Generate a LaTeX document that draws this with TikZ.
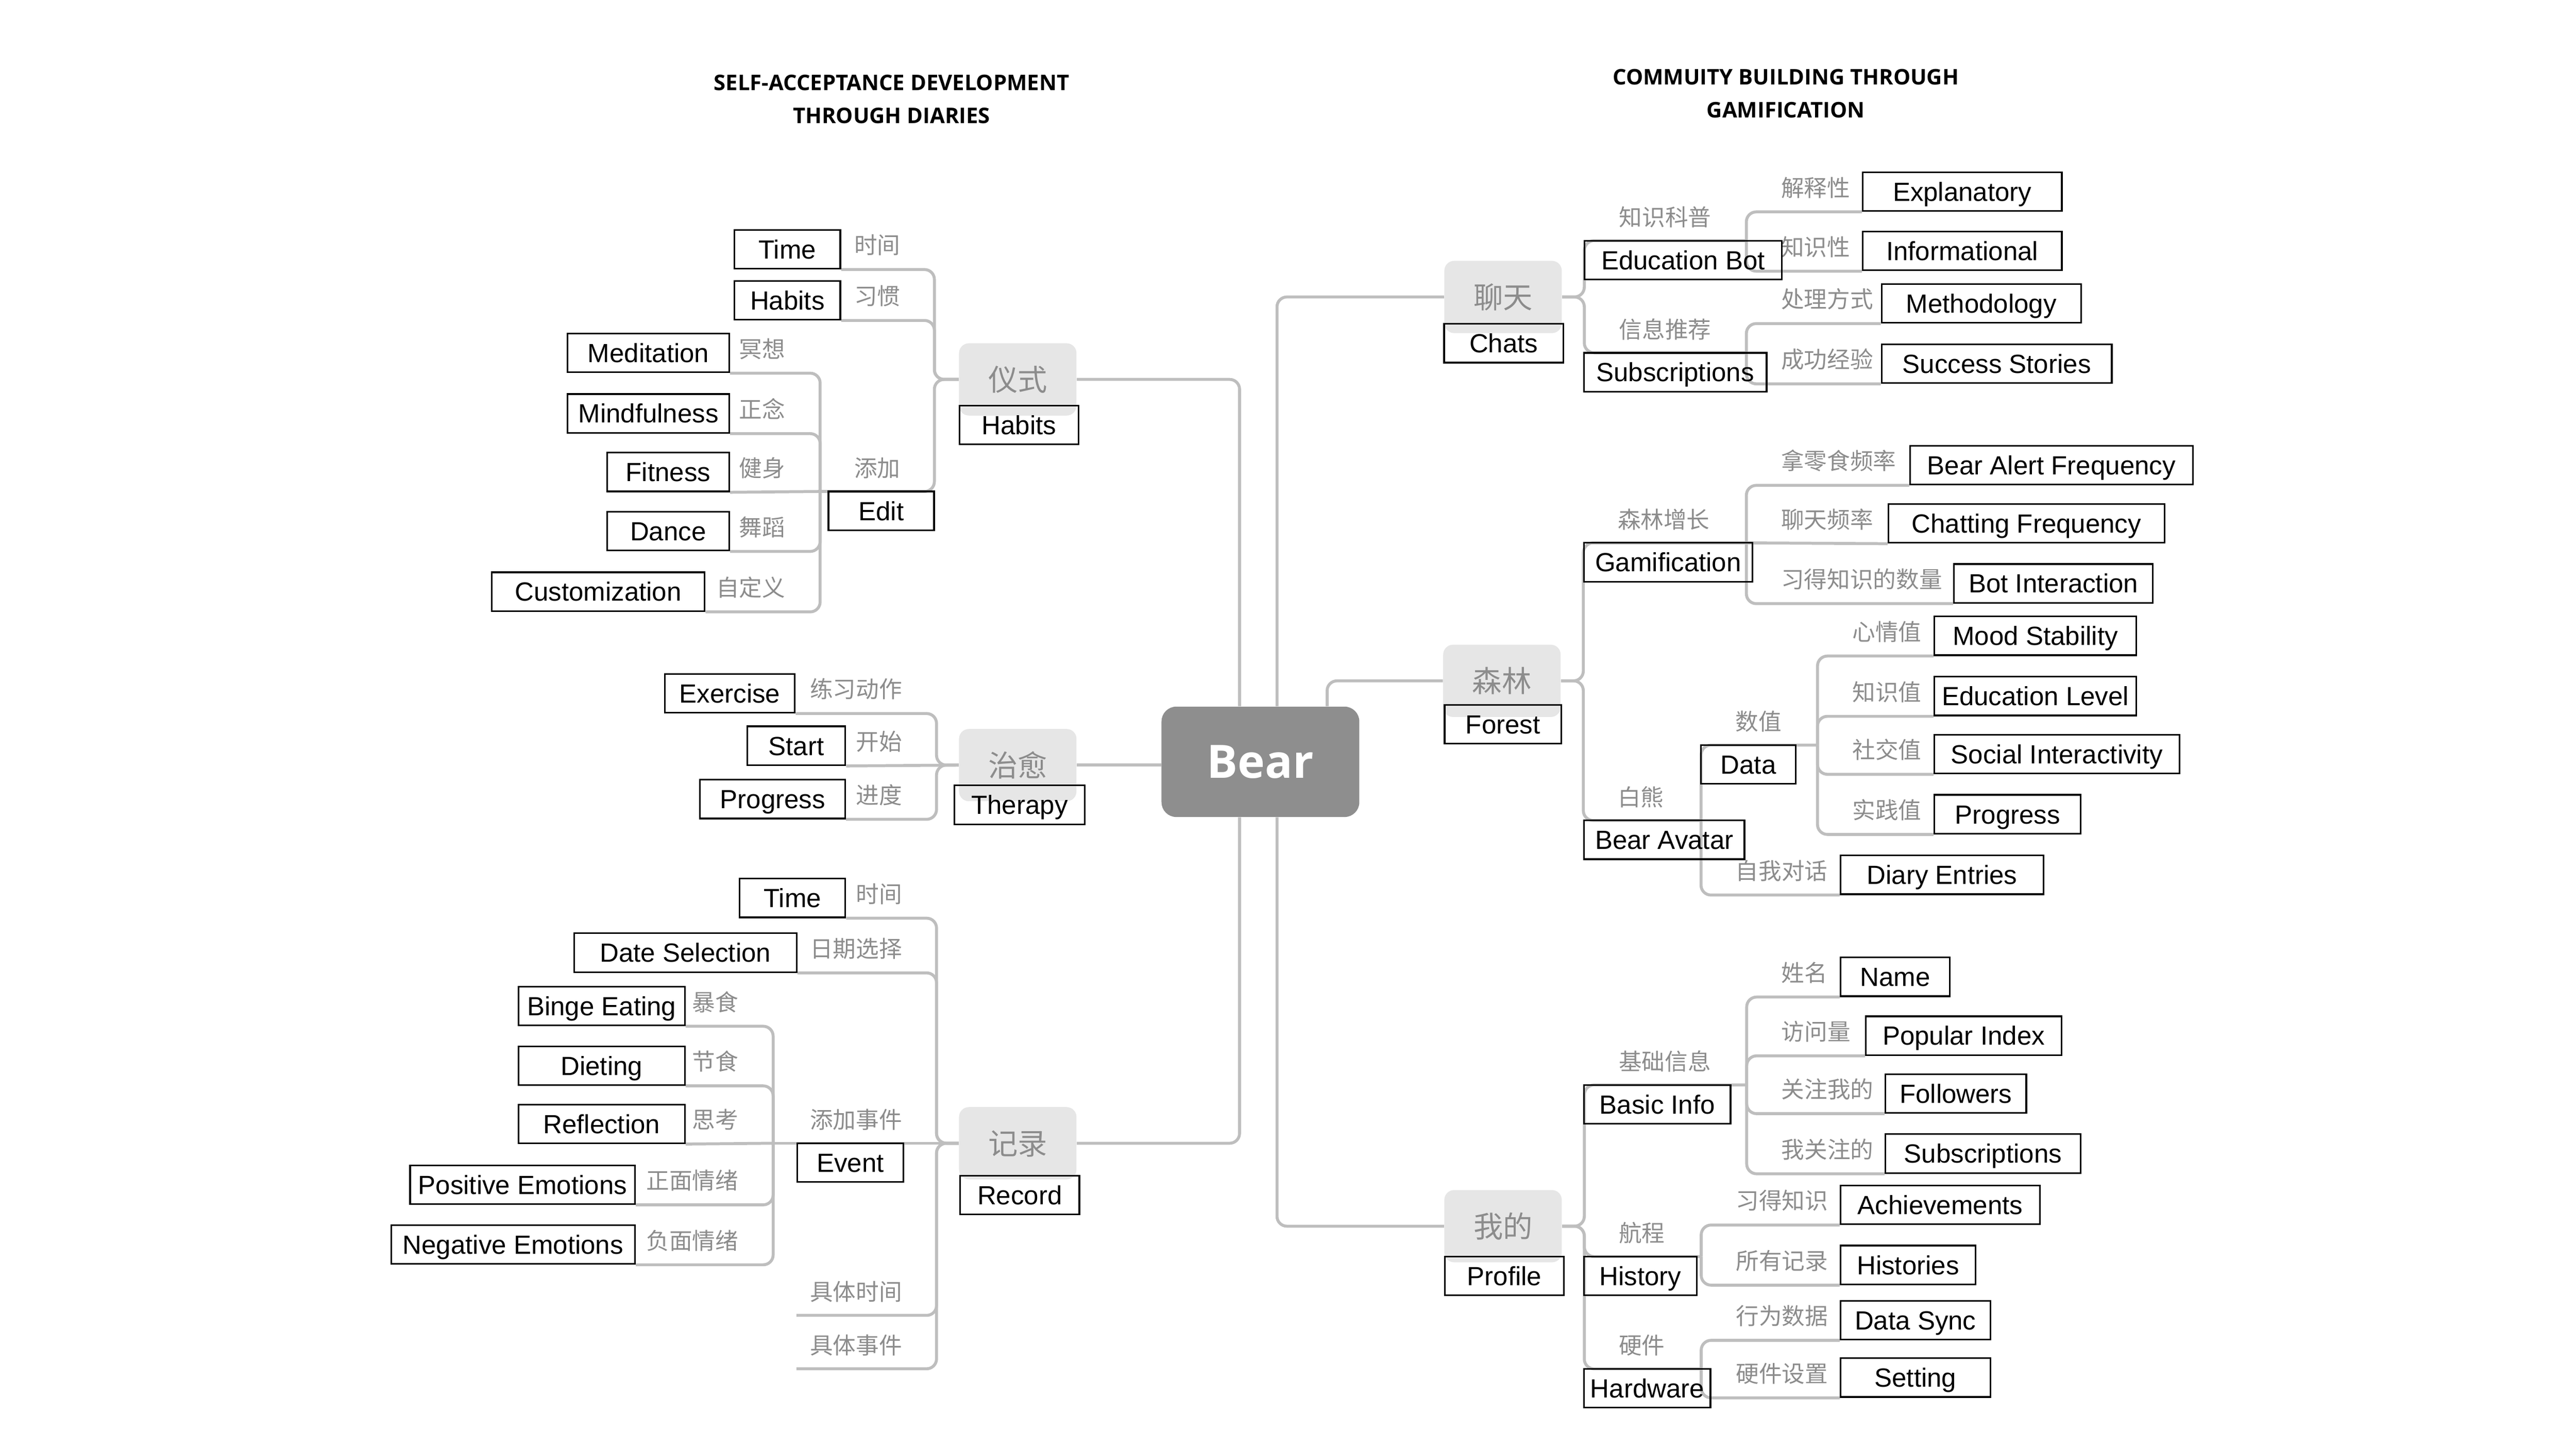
\documentclass[tikz,border=0pt]{standalone}
\usepackage{fontspec}
\setmainfont{Liberation Sans}
\newfontfamily\cjk{Noto Sans CJK SC}
\newfontfamily\headfont{Open Sans}
\usepackage{xcolor}
\usepackage{tikz}
\usetikzlibrary{positioning}
\usetikzlibrary{backgrounds}

\definecolor{linegray}{RGB}{190,190,190}
\definecolor{zhgray}{RGB}{140,140,140}
\definecolor{topicfill}{RGB}{230,230,230}
\definecolor{rootfill}{RGB}{142,142,142}

\tikzset{
    conn/.style={draw=linegray, line width=1.8pt, rounded corners=6pt},
    ebox/.style={draw=black, line width=1pt, minimum height=23.6pt, inner sep=0pt,
        text height=11.5pt, text depth=0pt, font=\fontsize{16}{16}\selectfont},
    zh/.style={text=zhgray, inner sep=0pt, text height=10.6pt, text depth=0pt,
        font=\cjk\fontsize{14}{14}\selectfont},
    topic/.style={fill=topicfill, rounded corners=6pt, minimum width=71.5pt, minimum height=44pt,
        inner sep=0pt, text=zhgray, text height=13.7pt, text depth=0pt,
        font=\cjk\fontsize{18}{18}\selectfont},
    root/.style={fill=rootfill, rounded corners=9pt, minimum width=120.4pt, minimum height=67.2pt,
        inner sep=0pt, text=white, text height=20pt, text depth=0pt,
        font=\headfont\bfseries\fontsize{28}{28}\selectfont},
    headline/.style={inner sep=0pt, align=center, font=\headfont\bfseries\fontsize{13.1}{20}\selectfont}
}

\begin{document}
\begin{tikzpicture}[x=1pt, y=-1pt]
    \useasboundingbox (0,0) rectangle (1568,882);

    % Titles
    \node[headline] (TitleL) at (542.7,60.4) {SELF-ACCEPTANCE DEVELOPMENT\\THROUGH DIARIES};
    \node[headline] (TitleR) at (1087,56.9) {COMMUITY BUILDING THROUGH\\GAMIFICATION};

    % Centre and main topics
    \node[root] (Bear) at (767.2,463.8) {Bear};
    \node[topic] (Ritual) at (619.5,231) {仪式};
    \node[topic] (Healing) at (619.5,465.8) {治愈};
    \node[topic] (Record) at (619.5,696) {记录};
    \node[topic] (Chat) at (914.9,180.8) {聊天};
    \node[topic] (Forest) at (914.2,414.5) {森林};
    \node[topic] (Mine) at (914.9,746.5) {我的};

    % Junctions
    \coordinate (EditJ) at (499.2,299.2);
    \coordinate (EventJ) at (470.6,696);
    \coordinate (SpecTime) at (484.8,800.8);
    \coordinate (SpecEvent) at (484.8,833.3);
    \coordinate (EduJ) at (1063,146.5);
    \coordinate (SubsJ) at (1063,214.8);
    \coordinate (GamJ) at (1063,330.5);
    \coordinate (AvatarJ) at (1035.4,499.5);
    \coordinate (DataJ) at (1106.3,453.6);
    \coordinate (BasicJ) at (1063.2,660.5);
    \coordinate (HistJ) at (1035.5,765);
    \coordinate (HardJ) at (1035.5,833.4);

    % Chinese labels, left side
    \node[zh, anchor=east] (zHTime) at (548.2,149.3) {时间};
    \node[zh, anchor=east] (zHHabits) at (548.2,180.3) {习惯};
    \node[zh, anchor=east] (zEdit) at (548.2,284.9) {添加};
    \node[zh, anchor=east] (zMedit) at (478.2,212.4) {冥想};
    \node[zh, anchor=east] (zMindf) at (478.2,249.2) {正念};
    \node[zh, anchor=east] (zFitn) at (478.2,284.9) {健身};
    \node[zh, anchor=east] (zDance) at (478.2,320.9) {舞蹈};
    \node[zh, anchor=east] (zCustom) at (478.2,357.7) {自定义};
    \node[zh, anchor=east] (zExer) at (549.2,419.6) {练习动作};
    \node[zh, anchor=east] (zStart) at (549.2,451.5) {开始};
    \node[zh, anchor=east] (zTProg) at (549.2,484) {进度};
    \node[zh, anchor=east] (zRTime) at (549.2,544.2) {时间};
    \node[zh, anchor=east] (zDateSel) at (549.2,577.5) {日期选择};
    \node[zh, anchor=east] (zEvent) at (549.2,681.7) {添加事件};
    \node[zh, anchor=east] (zSpecTime) at (549.2,786.5) {具体时间};
    \node[zh, anchor=east] (zSpecEvent) at (549.2,819) {具体事件};
    \node[zh, anchor=east] (zBinge) at (449.6,610) {暴食};
    \node[zh, anchor=east] (zDiet) at (449.6,646.3) {节食};
    \node[zh, anchor=east] (zRefl) at (449.6,681.7) {思考};
    \node[zh, anchor=east] (zPosEm) at (449.6,718.7) {正面情绪};
    \node[zh, anchor=east] (zNegEm) at (449.6,755.2) {负面情绪};

    % Chinese labels, right side
    \node[zh, anchor=west] (zEduBot) at (985.4,132.2) {知识科普};
    \node[zh, anchor=west] (zCSubs) at (985.4,200.5) {信息推荐};
    \node[zh, anchor=west] (zExpl) at (1084,114.2) {解释性};
    \node[zh, anchor=west] (zInfo) at (1084,150.3) {知识性};
    \node[zh, anchor=west] (zMethod) at (1084,182.2) {处理方式};
    \node[zh, anchor=west] (zSuccess) at (1084,218.9) {成功经验};
    \node[zh, anchor=west] (zGamif) at (984.5,316.2) {森林增长};
    \node[zh, anchor=west] (zAvatar) at (984.5,485.2) {白熊};
    \node[zh, anchor=west] (zAlert) at (1084,280.7) {拿零食频率};
    \node[zh, anchor=west] (zChatFreq) at (1084,316.2) {聊天频率};
    \node[zh, anchor=west] (zBotInt) at (1084,352.7) {习得知识的数量};
    \node[zh, anchor=west] (zData) at (1056.3,439.3) {数值};
    \node[zh, anchor=west] (zDiary) at (1056.3,530.1) {自我对话};
    \node[zh, anchor=west] (zMood) at (1127.3,384.6) {心情值};
    \node[zh, anchor=west] (zEduLvl) at (1127.3,421.3) {知识值};
    \node[zh, anchor=west] (zSocial) at (1127.3,456.6) {社交值};
    \node[zh, anchor=west] (zDProg) at (1127.3,493.2) {实践值};
    \node[zh, anchor=west] (zBasic) at (985.2,646.2) {基础信息};
    \node[zh, anchor=west] (zHistory) at (985.2,750.7) {航程};
    \node[zh, anchor=west] (zHardware) at (985.2,819.1) {硬件};
    \node[zh, anchor=west] (zName) at (1084.2,592.2) {姓名};
    \node[zh, anchor=west] (zPopIdx) at (1084.2,628) {访问量};
    \node[zh, anchor=west] (zFollow) at (1084.2,663.2) {关注我的};
    \node[zh, anchor=west] (zPSubs) at (1084.2,699.8) {我关注的};
    \node[zh, anchor=west] (zAchiev) at (1056.5,731) {习得知识};
    \node[zh, anchor=west] (zHists) at (1056.5,767.6) {所有记录};
    \node[zh, anchor=west] (zSync) at (1056.5,801.2) {行为数据};
    \node[zh, anchor=west] (zSetting) at (1056.5,836.2) {硬件设置};

    % English boxes, main topics
    \node[ebox, minimum width=72.6pt] (RitualEn) at (620.3,258.8) {Habits};
    \node[ebox, minimum width=79.2pt] (HealingEn) at (620.6,490) {Therapy};
    \node[ebox, minimum width=72.6pt] (RecordEn) at (620.7,727.6) {Record};
    \node[ebox, minimum width=72.6pt] (ChatEn) at (915.3,209) {Chats};
    \node[ebox, minimum width=71pt] (ForestEn) at (914.8,441) {Forest};
    \node[ebox, minimum width=72.6pt] (MineEn) at (915.7,776.8) {Profile};

    % English boxes, left side
    \node[ebox, minimum width=64.3pt] (HTime) at (479.3,151.8) {Time};
    \node[ebox, minimum width=64.3pt] (HHabits) at (479.3,182.8) {Habits};
    \node[ebox, minimum width=64.3pt] (Edit) at (536.4,311) {Edit};
    \node[ebox, minimum width=98.3pt] (Medit) at (394.7,214.9) {Meditation};
    \node[ebox, minimum width=98.3pt] (Mindf) at (394.7,251.7) {Mindfulness};
    \node[ebox, minimum width=74.2pt] (Fitn) at (406.7,287.4) {Fitness};
    \node[ebox, minimum width=74.2pt] (Dance) at (406.7,323.4) {Dance};
    \node[ebox, minimum width=129.6pt] (Custom) at (364.1,360.2) {Customization};
    \node[ebox, minimum width=79.2pt] (Exer) at (444.2,422.1) {Exercise};
    \node[ebox, minimum width=59.7pt] (Start) at (484.7,454) {Start};
    \node[ebox, minimum width=88.4pt] (TProg) at (470.3,486.5) {Progress};
    \node[ebox, minimum width=64.3pt] (RTime) at (482.4,546.7) {Time};
    \node[ebox, minimum width=135.3pt] (DateSel) at (417.2,580) {Date Selection};
    \node[ebox, minimum width=64.4pt] (Event) at (517.6,707.8) {Event};
    \node[ebox, minimum width=101.3pt] (Binge) at (366.2,612.5) {Binge Eating};
    \node[ebox, minimum width=101.3pt] (Diet) at (366.2,648.8) {Dieting};
    \node[ebox, minimum width=101.3pt] (Refl) at (366.2,684.2) {Reflection};
    \node[ebox, minimum width=136.9pt] (PosEm) at (318.1,721.2) {Positive Emotions};
    \node[ebox, minimum width=148.5pt] (NegEm) at (312.3,757.7) {Negative Emotions};

    % English boxes, right side
    \node[ebox, minimum width=120.3pt] (EduBot) at (1024.5,158.3) {Education Bot};
    \node[ebox, minimum width=111.2pt] (CSubs) at (1019.7,226.6) {Subscriptions};
    \node[ebox, minimum width=102.5pt] (Gamif) at (1015.4,342.3) {Gamification};
    \node[ebox, minimum width=57.8pt] (Data) at (1064.2,465.4) {Data};
    \node[ebox, minimum width=97.7pt] (Avatar) at (1013,511.3) {Bear Avatar};
    \node[ebox, minimum width=89.1pt] (Basic) at (1008.8,672.3) {Basic Info};
    \node[ebox, minimum width=68.6pt] (History) at (998.5,776.8) {History};
    \node[ebox, minimum width=76.9pt] (Hardware) at (1002.7,845.2) {Hardware};
    \node[ebox, minimum width=121.2pt] (Expl) at (1194.4,116.7) {Explanatory};
    \node[ebox, minimum width=121.2pt] (Info) at (1194.4,152.8) {Informational};
    \node[ebox, minimum width=121.3pt] (Method) at (1206,184.7) {Methodology};
    \node[ebox, minimum width=140.1pt] (Success) at (1215.4,221.4) {Success Stories};
    \node[ebox, minimum width=172.1pt] (Alert) at (1248.7,283.2) {Bear Alert Frequency};
    \node[ebox, minimum width=168.1pt] (ChatFreq) at (1233.5,318.7) {Chatting Frequency};
    \node[ebox, minimum width=121pt] (BotInt) at (1249.9,355.2) {Bot Interaction};
    \node[ebox, minimum width=122.8pt] (Mood) at (1238.9,387.1) {Mood Stability};
    \node[ebox, minimum width=122.8pt] (EduLvl) at (1238.9,423.8) {Education Level};
    \node[ebox, minimum width=149.1pt] (Social) at (1252,459.1) {Social Interactivity};
    \node[ebox, minimum width=89.1pt] (DProg) at (1222,495.7) {Progress};
    \node[ebox, minimum width=123.4pt] (Diary) at (1182.1,532.6) {Diary Entries};
    \node[ebox, minimum width=66.6pt] (Name) at (1153.6,594.7) {Name};
    \node[ebox, minimum width=119.2pt] (PopIdx) at (1195.3,630.5) {Popular Index};
    \node[ebox, minimum width=85.8pt] (Follow) at (1190.5,665.7) {Followers};
    \node[ebox, minimum width=118.7pt] (PSubs) at (1207,702.3) {Subscriptions};
    \node[ebox, minimum width=121.4pt] (Achiev) at (1181,733.5) {Achievements};
    \node[ebox, minimum width=82.2pt] (Hists) at (1161.4,770.1) {Histories};
    \node[ebox, minimum width=91.1pt] (Sync) at (1165.9,803.7) {Data Sync};
    \node[ebox, minimum width=91.1pt] (Setting) at (1165.9,838.7) {Setting};

    % Edges
    \begin{pgfonlayer}{background}
    \draw[conn] ([xshift=-12.7pt]Bear.north) |- (Ritual.east);
    \draw[conn] ([xshift=-12.7pt]Bear.south) |- (Record.east);
    \draw[conn] (Healing.east) -- (Healing.east -| Bear.west);
    \draw[conn] ([xshift=10.1pt]Bear.north) |- (Chat.west);
    \draw[conn] ([xshift=40.6pt]Bear.north) |- (Forest.west);
    \draw[conn] ([xshift=10.1pt]Bear.south) |- (Mine.west);

    \draw[conn] (Ritual.west) -- ++(-14.8,0) |- (HTime.south east);
    \draw[conn] (Ritual.west) -- ++(-14.8,0) |- (HHabits.south east);
    \draw[conn] (Ritual.west) -- ++(-14.8,0) |- (EditJ);
    \draw[conn] (EditJ) |- (Medit.south east);
    \draw[conn] (EditJ) |- (Mindf.south east);
    \draw[conn] (EditJ) -- (Fitn.south east);
    \draw[conn] (EditJ) |- (Dance.south east);
    \draw[conn] (EditJ) |- (Custom.south east);

    \draw[conn] (Healing.west) -- ++(-13.5,0) |- (Exer.south east);
    \draw[conn] (Healing.west) -- (Start.south east);
    \draw[conn] (Healing.west) -- ++(-13.5,0) |- (TProg.south east);

    \draw[conn] (Record.west) -- ++(-13.5,0) |- (RTime.south east);
    \draw[conn] (Record.west) -- ++(-13.5,0) |- (DateSel.south east);
    \draw[conn] (Record.west) -- (EventJ);
    \draw[conn] (Record.west) -- ++(-13.5,0) |- (SpecTime);
    \draw[conn] (Record.west) -- ++(-13.5,0) |- (SpecEvent);
    \draw[conn] (EventJ) |- (Binge.south east);
    \draw[conn] (EventJ) |- (Diet.south east);
    \draw[conn] (EventJ) -- (Refl.south east);
    \draw[conn] (EventJ) |- (PosEm.south east);
    \draw[conn] (EventJ) |- (NegEm.south east);

    \draw[conn] (Chat.east) -- ++(13.5,0) |- (EduJ);
    \draw[conn] (Chat.east) -- ++(13.5,0) |- (SubsJ);
    \draw[conn] (EduJ) |- (Expl.south west);
    \draw[conn] (EduJ) |- (Info.south west);
    \draw[conn] (SubsJ) |- (Method.south west);
    \draw[conn] (SubsJ) |- (Success.south west);

    \draw[conn] (Forest.east) -- ++(13.6,0) |- (GamJ);
    \draw[conn] (Forest.east) -- ++(13.6,0) |- (AvatarJ);
    \draw[conn] (GamJ) |- (Alert.south west);
    \draw[conn] (GamJ) -- (ChatFreq.south west);
    \draw[conn] (GamJ) |- (BotInt.south west);
    \draw[conn] (AvatarJ) |- (DataJ);
    \draw[conn] (AvatarJ) |- (Diary.south west);
    \draw[conn] (DataJ) |- (Mood.south west);
    \draw[conn] (DataJ) |- (EduLvl.south west);
    \draw[conn] (DataJ) |- (Social.south west);
    \draw[conn] (DataJ) |- (DProg.south west);

    \draw[conn] (Mine.east) -- ++(13.5,0) |- (BasicJ);
    \draw[conn] (Mine.east) -- ++(13.5,0) |- (HistJ);
    \draw[conn] (Mine.east) -- ++(13.5,0) |- (HardJ);
    \draw[conn] (BasicJ) |- (Name.south west);
    \draw[conn] (BasicJ) |- (PopIdx.south west);
    \draw[conn] (BasicJ) |- (Follow.south west);
    \draw[conn] (BasicJ) |- (PSubs.south west);
    \draw[conn] (HistJ) |- (Achiev.south west);
    \draw[conn] (HistJ) |- (Hists.south west);
    \draw[conn] (HardJ) |- (Sync.south west);
    \draw[conn] (HardJ) |- (Setting.south west);
    \end{pgfonlayer}
\end{tikzpicture}
\end{document}
